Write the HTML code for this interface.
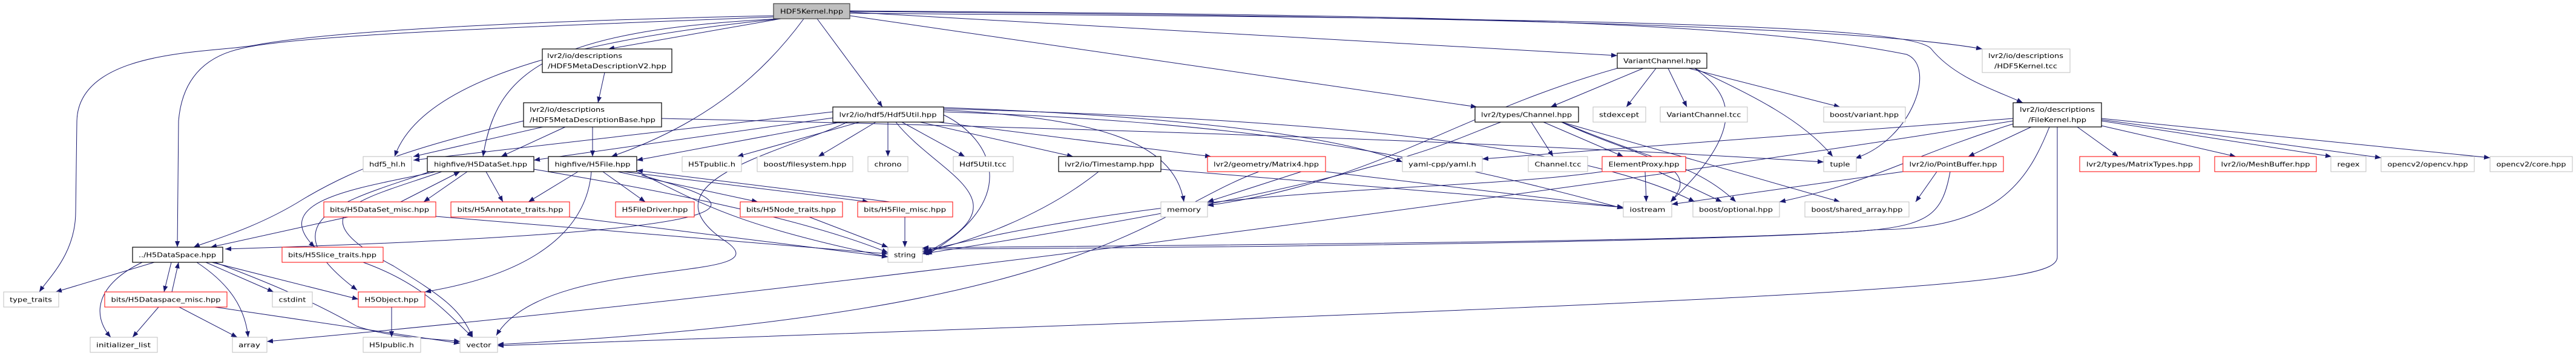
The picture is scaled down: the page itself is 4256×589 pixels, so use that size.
<!DOCTYPE html>
<html><head><meta charset="utf-8"><style>
html,body{margin:0;padding:0;background:#fff;}
svg{display:block;}
text{font-family:"DejaVu Sans","Liberation Sans",sans-serif;font-size:10.5px;fill:#000;}
.e{fill:none;stroke:#191970;stroke-width:1;marker-end:url(#a);}
.k{fill:#bfbfbf;stroke:#404040;stroke-width:1.2;}
.b{fill:#fff;stroke:#000;stroke-width:1.2;}
.r{fill:#fff;stroke:#ff0000;stroke-width:1;}
.g{fill:#fff;stroke:#bfbfbf;stroke-width:1;}
</style></head><body>
<svg width="4256" height="589" viewBox="0 0 4256 589" xmlns="http://www.w3.org/2000/svg">
<defs><marker id="a" viewBox="0 0 10 8" refX="10" refY="4" markerWidth="10" markerHeight="8" markerUnits="userSpaceOnUse" orient="auto"><path d="M0,0 L10,4 L0,8 z" fill="#191970"/></marker></defs>
<g>
<!-- Kernel edges -->
<path class="e" d="M1290,31 L1005,81"/>
<path class="e" d="M1278,28 C1000,40 500,55 400,80 C330,95 300,140 295,200 L293,409"/>
<path class="e" d="M1278,26 C900,34 550,50 420,75 C350,88 130,80 127,200 L125,350 C125,420 80,460 65,483"/>
<path class="e" d="M1290,31 C1000,60 700,120 652,259"/>
<path class="e" d="M1290,31 C900,50 820,120 798,259"/>
<path class="e" d="M1328,31 C1270,110 1180,200 1010,259"/>
<path class="e" d="M1350,31 L1458,177"/>
<path class="e" d="M1404,20 L2672,92"/>
<path class="e" d="M1404,26 L2440,177"/>
<path class="e" d="M1404,18 C2500,25 2900,40 3150,90 C3200,110 3160,230 3065,262"/>
<path class="e" d="M1404,19 C2600,28 3100,50 3275,81"/>
<path class="e" d="M1404,22 C2600,30 3150,40 3190,80 C3230,130 3300,150 3342,170"/>
<!-- V2 -> Base -->
<path class="e" d="M999,120 L988,170"/>
<!-- Base -->
<path class="e" d="M897,210 L683,259"/>
<path class="e" d="M934,210 L828,259"/>
<path class="e" d="M979,210 L979,259"/>
<path class="e" d="M865,200 C700,240 600,270 500,330 C420,380 340,400 320,409"/>
<path class="e" d="M1093,196 C1700,210 2400,230 3013,268"/>
<!-- Hdf5Util -->
<path class="e" d="M1376,185 L683,265"/>
<path class="e" d="M1376,195 L882,265"/>
<path class="e" d="M1390,202 L1052,265"/>
<path class="e" d="M1420,202 L1218,259"/>
<path class="e" d="M1447,202 L1352,259"/>
<path class="e" d="M1467,202 L1467,259"/>
<path class="e" d="M1490,202 L1594,259"/>
<path class="e" d="M1520,202 L1773,259"/>
<path class="e" d="M1550,202 L2001,259"/>
<path class="e" d="M1559,182 C1800,195 1940,230 1956,334"/>
<path class="e" d="M1480,202 C1550,290 1700,330 1530,418"/>
<path class="e" d="M1559,190 C1640,230 1690,330 1530,422"/>
<path class="e" d="M1400,202 C1300,250 1050,300 1200,400 C1300,470 900,420 820,555"/>
<path class="e" d="M1559,185 C2000,200 2300,240 2682,345"/>
<path class="e" d="M1559,180 C2100,195 2600,230 2800,334"/>
<path class="e" d="M1559,178 C1900,190 2200,220 2317,268"/>
<!-- H5DataSet -->
<path class="e" d="M772,284 L700,334"/>
<path class="e" d="M662,334 L760,284"/>
<path class="e" d="M803,284 L831,334"/>
<path class="e" d="M720,284 C600,310 440,330 520,409"/>
<path class="e" d="M710,284 C580,330 430,360 590,480"/>
<path class="e" d="M730,284 C600,330 480,350 650,440 C730,490 760,510 781,558"/>
<path class="e" d="M882,280 C1000,300 1300,350 1467,418"/>
<!-- DataSet_misc -->
<path class="e" d="M575,359 L348,409"/>
<path class="e" d="M720,358 L1467,420"/>
<!-- H5File -->
<path class="e" d="M955,284 L873,334"/>
<path class="e" d="M996,284 L1066,334"/>
<path class="e" d="M1020,284 L1252,334"/>
<path class="e" d="M1030,284 L1435,334"/>
<path class="e" d="M1470,334 L1052,282"/>
<path class="e" d="M977,284 C970,370 900,450 702,483"/>
<path class="e" d="M1052,284 C1150,330 1200,370 1467,425"/>
<path class="e" d="M1060,290 C1200,330 1400,380 372,412"/>
<!-- Annotate, Node, File_misc, Slice -->
<path class="e" d="M941,359 L1467,425"/>
<path class="e" d="M1337,359 L1467,409"/>
<path class="e" d="M1495,359 L1495,409"/>
<path class="e" d="M600,434 C700,470 740,520 781,558"/>
<!-- H5DataSpace -->
<path class="e" d="M255,434 L92,483"/>
<path class="e" d="M283,434 L271,483"/>
<path class="e" d="M284,483 L295,434"/>
<path class="e" d="M235,434 C160,470 150,520 183,558"/>
<path class="e" d="M325,434 C380,470 405,510 410,558"/>
<path class="e" d="M340,434 L452,483"/>
<path class="e" d="M350,434 L592,495"/>
<path class="e" d="M355,434 C450,470 520,500 590,540 C650,560 720,560 760,565"/>
<!-- Dataspace_misc -->
<path class="e" d="M262,508 L219,558"/>
<path class="e" d="M296,508 L392,558"/>
<path class="e" d="M355,508 L760,568"/>
<!-- H5Object -->
<path class="e" d="M647,508 L647,558"/>
<!-- Timestamp -->
<path class="e" d="M1815,284 C1720,360 1600,400 1525,418"/>
<path class="e" d="M1918,280 L2682,343"/>
<!-- Matrix4 -->
<path class="e" d="M2080,284 C1900,350 1800,520 822,570"/>
<path class="e" d="M2190,284 L2682,343"/>
<path class="e" d="M2150,284 L1995,334"/>
<!-- VariantChannel -->
<path class="e" d="M2715,113 L2562,177"/>
<path class="e" d="M2736,113 L2687,177"/>
<path class="e" d="M2756,113 L2787,177"/>
<path class="e" d="M2790,113 L3040,177"/>
<path class="e" d="M2800,113 C2900,160 2980,200 3028,259"/>
<path class="e" d="M2800,113 C2850,150 2900,200 2760,334"/>
<path class="e" d="M2672,113 C2400,190 2280,300 1995,340"/>
<!-- Channel -->
<path class="e" d="M2480,202 C2400,230 2300,300 1524,420"/>
<path class="e" d="M2530,202 L2566,259"/>
<path class="e" d="M2550,202 L2682,259"/>
<path class="e" d="M2580,202 C2700,260 2820,270 2760,334"/>
<path class="e" d="M2580,202 C2740,270 2800,270 2868,334"/>
<path class="e" d="M2580,202 L3040,334"/>
<!-- ElementProxy -->
<path class="e" d="M2718,284 L2720,334"/>
<path class="e" d="M2740,284 L2845,334"/>
<path class="e" d="M2647,284 C2400,320 2000,300 1524,416"/>
<!-- PointBuffer -->
<path class="e" d="M3144,284 L2762,338"/>
<path class="e" d="M3200,284 L3165,334"/>
<path class="e" d="M3222,284 C3210,350 3190,370 3100,380 C2900,400 2000,410 1524,412"/>
<!-- FileKernel -->
<path class="e" d="M3326,196 L2449,263"/>
<path class="e" d="M3356,210 L3252,259"/>
<path class="e" d="M3432,210 L3500,259"/>
<path class="e" d="M3472,208 L3694,259"/>
<path class="e" d="M3472,200 L3852,259"/>
<path class="e" d="M3472,198 L3934,261"/>
<path class="e" d="M3472,196 L4114,261"/>
<path class="e" d="M3326,205 C3150,260 3100,300 2940,334"/>
<path class="e" d="M3386,210 C3350,300 3300,380 3100,380 C2900,400 2000,405 1524,410"/>
<path class="e" d="M3399,210 L3399,425 C3399,470 3200,490 822,572"/>
<path class="e" d="M3326,200 C2900,270 1500,470 441,565"/>
</g>
<!-- nodes -->
<g>
<rect class="k" x="1278" y="6" width="126" height="25"/><text x="1341" y="22.5" text-anchor="middle" textLength="104" lengthAdjust="spacingAndGlyphs">HDF5Kernel.hpp</text>

<rect class="b" x="896" y="81" width="214" height="39"/><text x="904" y="96" textLength="124" lengthAdjust="spacingAndGlyphs">lvr2/io/descriptions</text><text x="1003" y="113" text-anchor="middle" textLength="196" lengthAdjust="spacingAndGlyphs">/HDF5MetaDescriptionV2.hpp</text>
<rect class="b" x="865" y="170" width="228" height="40"/><text x="875" y="185" textLength="124" lengthAdjust="spacingAndGlyphs">lvr2/io/descriptions</text><text x="979" y="202" text-anchor="middle" textLength="208" lengthAdjust="spacingAndGlyphs">/HDF5MetaDescriptionBase.hpp</text>
<rect class="b" x="1376" y="177" width="183" height="25"/><text x="1467" y="193.5" text-anchor="middle" textLength="161" lengthAdjust="spacingAndGlyphs">lvr2/io/hdf5/Hdf5Util.hpp</text>
<rect class="b" x="2672" y="88" width="148" height="25"/><text x="2746" y="104.5" text-anchor="middle" textLength="128" lengthAdjust="spacingAndGlyphs">VariantChannel.hpp</text>
<rect class="b" x="2437" y="177" width="171" height="25"/><text x="2522" y="193.5" text-anchor="middle" textLength="150" lengthAdjust="spacingAndGlyphs">lvr2/types/Channel.hpp</text>
<rect class="g" x="3275" y="81" width="145" height="39"/><text x="3347" y="96" text-anchor="middle" textLength="124" lengthAdjust="spacingAndGlyphs">lvr2/io/descriptions</text><text x="3347" y="113" text-anchor="middle" textLength="104" lengthAdjust="spacingAndGlyphs">/HDF5Kernel.tcc</text>
<rect class="b" x="3326" y="170" width="146" height="40"/><text x="3399" y="185" text-anchor="middle" textLength="124" lengthAdjust="spacingAndGlyphs">lvr2/io/descriptions</text><text x="3399" y="202" text-anchor="middle" textLength="96" lengthAdjust="spacingAndGlyphs">/FileKernel.hpp</text>

<rect class="g" x="600" y="259" width="80" height="25"/><text x="640" y="275.5" text-anchor="middle" textLength="60" lengthAdjust="spacingAndGlyphs">hdf5_hl.h</text>
<rect class="b" x="706" y="259" width="176" height="25"/><text x="794" y="275.5" text-anchor="middle" textLength="154" lengthAdjust="spacingAndGlyphs">highfive/H5DataSet.hpp</text>
<rect class="b" x="906" y="259" width="146" height="25"/><text x="979" y="275.5" text-anchor="middle" textLength="125" lengthAdjust="spacingAndGlyphs">highfive/H5File.hpp</text>
<rect class="g" x="1127" y="259" width="98" height="25"/><text x="1176" y="275.5" text-anchor="middle" textLength="78" lengthAdjust="spacingAndGlyphs">H5Tpublic.h</text>
<rect class="g" x="1251" y="259" width="158" height="25"/><text x="1330" y="275.5" text-anchor="middle" textLength="137" lengthAdjust="spacingAndGlyphs">boost/filesystem.hpp</text>
<rect class="g" x="1434" y="259" width="66" height="25"/><text x="1467" y="275.5" text-anchor="middle" textLength="45" lengthAdjust="spacingAndGlyphs">chrono</text>
<rect class="g" x="1575" y="259" width="99" height="25"/><text x="1624" y="275.5" text-anchor="middle" textLength="78" lengthAdjust="spacingAndGlyphs">Hdf5Util.tcc</text>
<rect class="b" x="1749" y="259" width="169" height="25"/><text x="1833" y="275.5" text-anchor="middle" textLength="148" lengthAdjust="spacingAndGlyphs">lvr2/io/Timestamp.hpp</text>
<rect class="r" x="1995" y="259" width="195" height="25"/><text x="2092" y="275.5" text-anchor="middle" textLength="174" lengthAdjust="spacingAndGlyphs">lvr2/geometry/Matrix4.hpp</text>
<rect class="g" x="2317" y="259" width="132" height="25"/><text x="2383" y="275.5" text-anchor="middle" textLength="112" lengthAdjust="spacingAndGlyphs">yaml-cpp/yaml.h</text>
<rect class="g" x="2525" y="259" width="98" height="25"/><text x="2574" y="275.5" text-anchor="middle" textLength="77" lengthAdjust="spacingAndGlyphs">Channel.tcc</text>
<rect class="r" x="2647" y="259" width="138" height="25"/><text x="2716" y="275.5" text-anchor="middle" textLength="117" lengthAdjust="spacingAndGlyphs">ElementProxy.hpp</text>
<rect class="g" x="3013" y="259" width="54" height="25"/><text x="3040" y="275.5" text-anchor="middle" textLength="33" lengthAdjust="spacingAndGlyphs">tuple</text>
<rect class="r" x="3144" y="259" width="166" height="25"/><text x="3227" y="275.5" text-anchor="middle" textLength="145" lengthAdjust="spacingAndGlyphs">lvr2/io/PointBuffer.hpp</text>
<rect class="r" x="3436" y="259" width="198" height="25"/><text x="3535" y="275.5" text-anchor="middle" textLength="176" lengthAdjust="spacingAndGlyphs">lvr2/types/MatrixTypes.hpp</text>
<rect class="r" x="3659" y="259" width="168" height="25"/><text x="3743" y="275.5" text-anchor="middle" textLength="147" lengthAdjust="spacingAndGlyphs">lvr2/io/MeshBuffer.hpp</text>
<rect class="g" x="3851" y="259" width="58" height="25"/><text x="3880" y="275.5" text-anchor="middle" textLength="37" lengthAdjust="spacingAndGlyphs">regex</text>
<rect class="g" x="3934" y="259" width="154" height="25"/><text x="4011" y="275.5" text-anchor="middle" textLength="133" lengthAdjust="spacingAndGlyphs">opencv2/opencv.hpp</text>
<rect class="g" x="4114" y="259" width="136" height="25"/><text x="4182" y="275.5" text-anchor="middle" textLength="115" lengthAdjust="spacingAndGlyphs">opencv2/core.hpp</text>
<rect class="g" x="2632" y="177" width="87" height="25"/><text x="2675" y="193.5" text-anchor="middle" textLength="66" lengthAdjust="spacingAndGlyphs">stdexcept</text>
<rect class="g" x="2743" y="177" width="144" height="25"/><text x="2815" y="193.5" text-anchor="middle" textLength="123" lengthAdjust="spacingAndGlyphs">VariantChannel.tcc</text>
<rect class="g" x="3013" y="177" width="135" height="25"/><text x="3080" y="193.5" text-anchor="middle" textLength="114" lengthAdjust="spacingAndGlyphs">boost/variant.hpp</text>

<rect class="r" x="535" y="334" width="185" height="25"/><text x="627" y="350.5" text-anchor="middle" textLength="164" lengthAdjust="spacingAndGlyphs">bits/H5DataSet_misc.hpp</text>
<rect class="r" x="745" y="334" width="196" height="25"/><text x="843" y="350.5" text-anchor="middle" textLength="175" lengthAdjust="spacingAndGlyphs">bits/H5Annotate_traits.hpp</text>
<rect class="r" x="1017" y="334" width="130" height="25"/><text x="1082" y="350.5" text-anchor="middle" textLength="109" lengthAdjust="spacingAndGlyphs">H5FileDriver.hpp</text>
<rect class="r" x="1223" y="334" width="169" height="25"/><text x="1307" y="350.5" text-anchor="middle" textLength="148" lengthAdjust="spacingAndGlyphs">bits/H5Node_traits.hpp</text>
<rect class="r" x="1417" y="334" width="157" height="25"/><text x="1495" y="350.5" text-anchor="middle" textLength="136" lengthAdjust="spacingAndGlyphs">bits/H5File_misc.hpp</text>
<rect class="g" x="1918" y="334" width="77" height="25"/><text x="1956" y="350.5" text-anchor="middle" textLength="56" lengthAdjust="spacingAndGlyphs">memory</text>
<rect class="g" x="2682" y="334" width="80" height="25"/><text x="2722" y="350.5" text-anchor="middle" textLength="59" lengthAdjust="spacingAndGlyphs">iostream</text>
<rect class="g" x="2797" y="334" width="143" height="25"/><text x="2868" y="350.5" text-anchor="middle" textLength="122" lengthAdjust="spacingAndGlyphs">boost/optional.hpp</text>
<rect class="g" x="2982" y="334" width="172" height="25"/><text x="3068" y="350.5" text-anchor="middle" textLength="151" lengthAdjust="spacingAndGlyphs">boost/shared_array.hpp</text>

<rect class="b" x="219" y="409" width="149" height="25"/><text x="293" y="425.5" text-anchor="middle" textLength="128" lengthAdjust="spacingAndGlyphs">../H5DataSpace.hpp</text>
<rect class="r" x="466" y="409" width="167" height="25"/><text x="549" y="425.5" text-anchor="middle" textLength="146" lengthAdjust="spacingAndGlyphs">bits/H5Slice_traits.hpp</text>
<rect class="g" x="1467" y="409" width="57" height="25"/><text x="1495" y="425.5" text-anchor="middle" textLength="36" lengthAdjust="spacingAndGlyphs">string</text>

<rect class="g" x="6" y="483" width="91" height="25"/><text x="51" y="499.5" text-anchor="middle" textLength="70" lengthAdjust="spacingAndGlyphs">type_traits</text>
<rect class="r" x="173" y="483" width="202" height="25"/><text x="274" y="499.5" text-anchor="middle" textLength="181" lengthAdjust="spacingAndGlyphs">bits/H5Dataspace_misc.hpp</text>
<rect class="g" x="450" y="483" width="66" height="25"/><text x="483" y="499.5" text-anchor="middle" textLength="45" lengthAdjust="spacingAndGlyphs">cstdint</text>
<rect class="r" x="592" y="483" width="110" height="25"/><text x="647" y="499.5" text-anchor="middle" textLength="89" lengthAdjust="spacingAndGlyphs">H5Object.hpp</text>

<rect class="g" x="149" y="558" width="111" height="25"/><text x="204" y="574.5" text-anchor="middle" textLength="90" lengthAdjust="spacingAndGlyphs">initializer_list</text>
<rect class="g" x="384" y="558" width="57" height="25"/><text x="412" y="574.5" text-anchor="middle" textLength="36" lengthAdjust="spacingAndGlyphs">array</text>
<rect class="g" x="600" y="558" width="95" height="25"/><text x="647" y="574.5" text-anchor="middle" textLength="74" lengthAdjust="spacingAndGlyphs">H5Ipublic.h</text>
<rect class="g" x="760" y="558" width="62" height="25"/><text x="791" y="574.5" text-anchor="middle" textLength="41" lengthAdjust="spacingAndGlyphs">vector</text>
</g>
</svg>
</body></html>
